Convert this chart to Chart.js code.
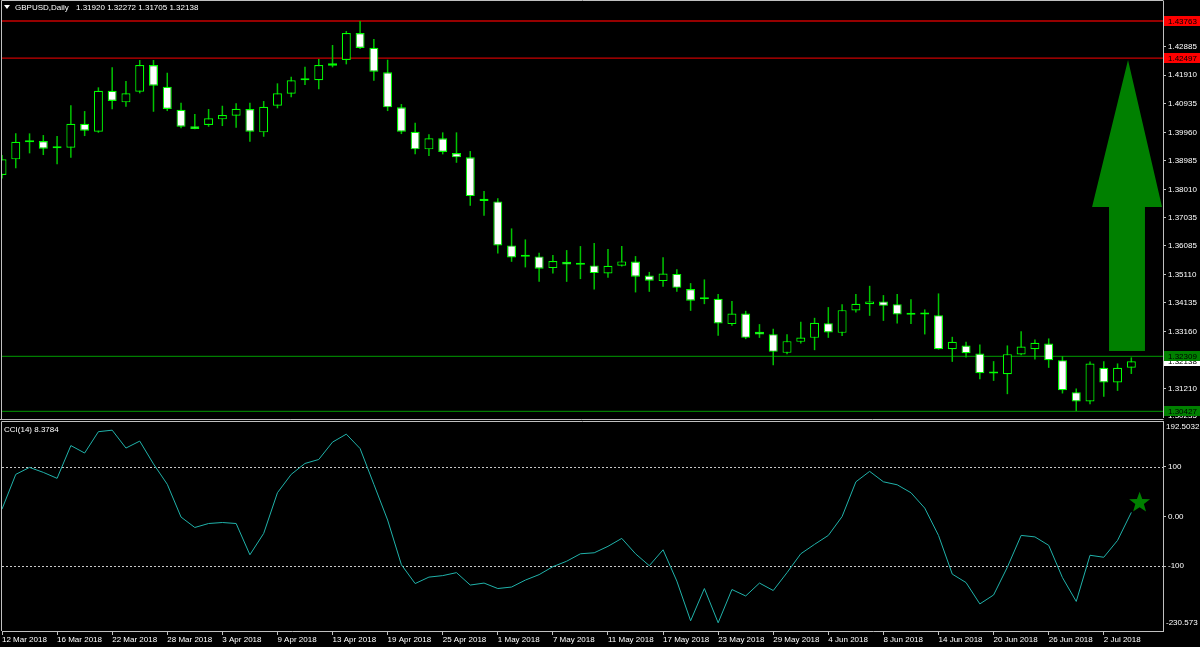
<!DOCTYPE html>
<html>
<head>
<meta charset="utf-8">
<title>GBPUSD Daily</title>
<script src="https://cdn.jsdelivr.net/npm/chart.js@4.4.1/dist/chart.umd.min.js"></script>
<style>
  html, body { margin: 0; padding: 0; background: #000; }
  #wrap { position: relative; width: 1200px; height: 647px; overflow: hidden; background: #000; }
  .pane { position: absolute; left: 0; width: 1200px; }
  #pricePane { top: 0; height: 420px; }
  #cciPane { top: 420px; height: 227px; }
</style>
</head>
<body>
<div id="wrap">
  <div class="pane" id="pricePane"><canvas id="priceChart"></canvas></div>
  <div class="pane" id="cciPane"><canvas id="cciChart"></canvas></div>
</div>
<script>
// bar data, 12 Mar 2018 .. 4 Jul 2018 (one entry per daily bar)
const dateLabels = ['12 Mar 2018', '16 Mar 2018', '22 Mar 2018', '28 Mar 2018', '3 Apr 2018', '9 Apr 2018',
  '13 Apr 2018', '19 Apr 2018', '25 Apr 2018', '1 May 2018', '7 May 2018', '11 May 2018', '17 May 2018',
  '23 May 2018', '29 May 2018', '4 Jun 2018', '8 Jun 2018', '14 Jun 2018', '20 Jun 2018', '26 Jun 2018', '2 Jul 2018'];

const openPx = [1.38500, 1.39037, 1.39620, 1.39662, 1.39415, 1.39433, 1.40253, 1.39980, 1.41381, 1.40985,
  1.41347, 1.42260, 1.41518, 1.40732, 1.40164, 1.40209, 1.40404, 1.40527, 1.40756, 1.39959,
  1.40869, 1.41279, 1.41737, 1.41737, 1.42236, 1.42430, 1.43353, 1.42851, 1.42010, 1.40814,
  1.39980, 1.39378, 1.39754, 1.39252, 1.39105, 1.37690, 1.37601, 1.36097, 1.35708, 1.35721,
  1.35322, 1.35537, 1.35434, 1.35414, 1.35140, 1.35400, 1.35544, 1.35065, 1.34877, 1.35123,
  1.34604, 1.34262, 1.34272, 1.33408, 1.33773, 1.33145, 1.33066, 1.32427, 1.32803, 1.32939,
  1.33442, 1.33110, 1.33876, 1.34091, 1.34184, 1.34091, 1.33726, 1.33739, 1.33715, 1.32553,
  1.32680, 1.32406, 1.31723, 1.31699, 1.32372, 1.32553, 1.32748, 1.32177, 1.31084, 1.30766,
  1.31914, 1.31415, 1.31920];
const highPx = [1.39184, 1.39925, 1.39925, 1.39867, 1.39833, 1.40882, 1.40687, 1.41497, 1.42181, 1.41713,
  1.42430, 1.42430, 1.41996, 1.40971, 1.40585, 1.40756, 1.40869, 1.40951, 1.40971, 1.41029,
  1.41634, 1.41860, 1.42201, 1.42465, 1.42943, 1.43421, 1.43763, 1.43148, 1.42441, 1.40927,
  1.40288, 1.39891, 1.39959, 1.39959, 1.39320, 1.37953, 1.37704, 1.36678, 1.36302, 1.35845,
  1.35766, 1.35937, 1.36074, 1.36176, 1.35971, 1.36074, 1.35732, 1.35192, 1.35691, 1.35281,
  1.34809, 1.34935, 1.34433, 1.34194, 1.33862, 1.33408, 1.33247, 1.33066, 1.33486, 1.33623,
  1.33989, 1.34091, 1.34433, 1.34717, 1.34399, 1.34433, 1.34262, 1.33910, 1.34457, 1.32974,
  1.32803, 1.32714, 1.32143, 1.32680, 1.33168, 1.32885, 1.32919, 1.32314, 1.31210, 1.32133,
  1.32143, 1.32065, 1.32272];
const lowPx = [1.38380, 1.38729, 1.39242, 1.39184, 1.38866, 1.39091, 1.39833, 1.39946, 1.40746, 1.40834,
  1.41292, 1.40663, 1.40687, 1.40096, 1.40062, 1.40151, 1.40175, 1.40117, 1.39638, 1.39809,
  1.40780, 1.41156, 1.41576, 1.41429, 1.42181, 1.42283, 1.42806, 1.41723, 1.40687, 1.39901,
  1.39208, 1.39149, 1.39208, 1.38920, 1.37451, 1.37109, 1.35824, 1.35537, 1.35346, 1.34853,
  1.35140, 1.34853, 1.34946, 1.34594, 1.34990, 1.35373, 1.34491, 1.34512, 1.34683, 1.34512,
  1.33862, 1.34091, 1.33008, 1.33350, 1.32895, 1.32939, 1.32006, 1.32382, 1.32748, 1.32519,
  1.32939, 1.32998, 1.33808, 1.33691, 1.33520, 1.33432, 1.33408, 1.33056, 1.32536, 1.32119,
  1.32270, 1.31528, 1.31470, 1.31015, 1.32348, 1.32201, 1.31914, 1.31039, 1.30440, 1.30674,
  1.30923, 1.31128, 1.31705];
const closePx = [1.39037, 1.39638, 1.39618, 1.39399, 1.39413, 1.40253, 1.40014, 1.41381, 1.41029, 1.41292,
  1.42260, 1.41552, 1.40756, 1.40151, 1.40072, 1.40438, 1.40551, 1.40766, 1.39980, 1.40834,
  1.41292, 1.41737, 1.41740, 1.42260, 1.42318, 1.43353, 1.42841, 1.42031, 1.40814, 1.39980,
  1.39378, 1.39754, 1.39286, 1.39105, 1.37782, 1.37611, 1.36097, 1.35687, 1.35706, 1.35298,
  1.35561, 1.35448, 1.35436, 1.35151, 1.35400, 1.35551, 1.35024, 1.34888, 1.35140, 1.34648,
  1.34204, 1.34264, 1.33432, 1.33773, 1.32939, 1.33056, 1.32461, 1.32827, 1.32953, 1.33452,
  1.33124, 1.33886, 1.34101, 1.34184, 1.34033, 1.33739, 1.33724, 1.33741, 1.32553, 1.32803,
  1.32417, 1.31733, 1.31721, 1.32382, 1.32646, 1.32769, 1.32177, 1.31152, 1.30766, 1.32065,
  1.31415, 1.31914, 1.32138];

const cciValues = [15, 85, 99, 89, 77, 143, 128, 171, 174, 138,
  152, 106, 65, -1, -22, -14, -12, -14, -77, -34,
  48, 85, 107, 115, 150, 166, 137, 65, -7, -97,
  -135, -122, -119, -113, -138, -134, -145, -142, -128, -117,
  -101, -90, -75, -73, -60, -44, -75, -99, -67, -130,
  -210, -145, -214, -147, -160, -134, -149, -113, -75, -56,
  -38, 0, 70, 91, 70, 64, 48, 17, -38, -116,
  -133, -176, -158, -102, -38, -41, -58, -123, -171, -78,
  -82, -48, 8.3784];

// axes
const priceTicks = [1.42885, 1.41910, 1.40935, 1.39960, 1.38985, 1.38010, 1.37035, 1.36085,
  1.35110, 1.34135, 1.33160, 1.31210];
const priceMin = 1.30235;
const priceMax = 1.44447;
const cciTicks = [100, 0, -100];
const cciLevels = [100, -100];
const cciMin = -230.573;
const cciMax = 192.5032;
const barsShown = 84.3;

// chart objects
const redLevels = [1.43763, 1.42497];
const greenLevels = [1.32309, 1.30427];
const arrowShape = { tipX: 81.76, tipY: 1.42431, headLeft: 79.15, headRight: 84.23, headY: 1.37409,
  shaftLeft: 80.38, shaftRight: 82.99, baseY: 1.32490 };
const starMark = { x: 82.6, y: 28 };

const colorLime = '#00ff00';
const colorWick = '#00c400';
const colorFrame = '#c0c0c0';
const colorRedLine = '#c80000';
const colorGreenLine = '#007c00';
const colorObject = '#008000';
const colorCci = '#20b2aa';
const labelFont = '8px "Liberation Sans"';

Chart.defaults.font.family = '"Liberation Sans", Arial, sans-serif';
Chart.defaults.font.size = 8;
Chart.defaults.color = '#ffffff';

const last = openPx.length - 1;

const drawTag = (ctx, y, text, bg, fg) => {
  ctx.fillStyle = bg;
  ctx.fillRect(1164, Math.round(y) - 5, 36, 10);
  ctx.fillStyle = fg;
  ctx.textAlign = 'left';
  ctx.textBaseline = 'middle';
  ctx.fillText(text, 1168, y + 0.5);
};

const priceDecor = {
  id: 'priceDecor',
  beforeDatasetsDraw(chart) {
    const { ctx, chartArea: a, scales: { y } } = chart;
    ctx.save();
    ctx.lineWidth = 1.3;
    const line = (v, c) => {
      const py = y.getPixelForValue(v);
      ctx.strokeStyle = c;
      ctx.beginPath();
      ctx.moveTo(a.left, py);
      ctx.lineTo(a.right, py);
      ctx.stroke();
    };
    redLevels.forEach((v) => line(v, colorRedLine));
    greenLevels.forEach((v) => line(v, colorGreenLine));
    ctx.restore();
  },
  afterDatasetsDraw(chart) {
    const { ctx, chartArea: a, scales: { x, y } } = chart;
    const s = arrowShape;
    ctx.save();
    ctx.beginPath();
    ctx.rect(a.left, a.top, a.right - a.left, a.bottom - a.top);
    ctx.clip();
    ctx.fillStyle = colorObject;
    ctx.beginPath();
    ctx.moveTo(x.getPixelForValue(s.tipX), y.getPixelForValue(s.tipY));
    ctx.lineTo(x.getPixelForValue(s.headRight), y.getPixelForValue(s.headY));
    ctx.lineTo(x.getPixelForValue(s.shaftRight), y.getPixelForValue(s.headY));
    ctx.lineTo(x.getPixelForValue(s.shaftRight), y.getPixelForValue(s.baseY));
    ctx.lineTo(x.getPixelForValue(s.shaftLeft), y.getPixelForValue(s.baseY));
    ctx.lineTo(x.getPixelForValue(s.shaftLeft), y.getPixelForValue(s.headY));
    ctx.lineTo(x.getPixelForValue(s.headLeft), y.getPixelForValue(s.headY));
    ctx.closePath();
    ctx.fill();
    ctx.restore();
  },
  afterDraw(chart) {
    const { ctx, chartArea: a, scales: { y } } = chart;
    ctx.save();
    // frame
    ctx.strokeStyle = colorFrame;
    ctx.lineWidth = 1;
    ctx.beginPath();
    ctx.moveTo(1.5, 419.5);
    ctx.lineTo(1.5, 0.5);
    ctx.lineTo(a.right + 0.5, 0.5);
    ctx.moveTo(0, 419.5);
    ctx.lineTo(a.right + 0.5, 419.5);
    ctx.stroke();

    // title
    ctx.fillStyle = '#ffffff';
    ctx.beginPath();
    ctx.moveTo(4, 5);
    ctx.lineTo(10, 5);
    ctx.lineTo(7, 9);
    ctx.closePath();
    ctx.fill();
    ctx.font = labelFont;
    ctx.textBaseline = 'middle';
    ctx.textAlign = 'left';
    ctx.fillText('GBPUSD,Daily', 15, 7.5);
    const ohlc = [openPx[last], highPx[last], lowPx[last], closePx[last]].map((v) => v.toFixed(5)).join(' ');
    ctx.fillText(ohlc, 76, 7.5);

    // bottom price of the window
    ctx.fillText(priceMin.toFixed(5), 1168, y.getPixelForValue(priceMin) - 1);

    // price tags on the axis
    drawTag(ctx, y.getPixelForValue(closePx[last]), closePx[last].toFixed(5), '#ffffff', '#000000');
    redLevels.forEach((v) => drawTag(ctx, y.getPixelForValue(v), v.toFixed(5), '#ff0000', '#000000'));
    greenLevels.forEach((v) => drawTag(ctx, y.getPixelForValue(v), v.toFixed(5), colorObject, '#000000'));
    ctx.restore();
  },
};

const cciDecor = {
  id: 'cciDecor',
  beforeDatasetsDraw(chart) {
    const { ctx, chartArea: a, scales: { y } } = chart;
    ctx.save();
    ctx.strokeStyle = '#c8c8c8';
    ctx.lineWidth = 1;
    ctx.setLineDash([2, 2]);
    cciLevels.forEach((v) => {
      const py = Math.round(y.getPixelForValue(v)) + 0.5;
      ctx.beginPath();
      ctx.moveTo(a.left, py);
      ctx.lineTo(a.right, py);
      ctx.stroke();
    });
    ctx.restore();
  },
  afterDraw(chart) {
    const { ctx, chartArea: a, scales: { x, y } } = chart;
    ctx.save();
    ctx.strokeStyle = colorFrame;
    ctx.lineWidth = 1;
    ctx.beginPath();
    ctx.moveTo(1.5, a.bottom);
    ctx.lineTo(1.5, 1.5);
    ctx.lineTo(a.right + 0.5, 1.5);
    ctx.stroke();

    ctx.font = labelFont;
    ctx.fillStyle = '#ffffff';
    ctx.textAlign = 'left';
    ctx.textBaseline = 'middle';
    ctx.fillText('CCI(14) ' + cciValues[last].toFixed(4), 4, 9.5);
    ctx.fillText(cciMax.toFixed(4), 1166, y.getPixelForValue(cciMax) + 6);
    ctx.fillText(cciMin.toFixed(3), 1166, y.getPixelForValue(cciMin) - 8);

    // star marker
    const cx = x.getPixelForValue(starMark.x);
    const cy = y.getPixelForValue(starMark.y);
    ctx.fillStyle = colorObject;
    ctx.beginPath();
    for (let k = 0; k < 10; k++) {
      const r = k % 2 === 0 ? 11 : 4.5;
      const ang = -Math.PI / 2 + (k * Math.PI) / 5;
      const px = cx + r * Math.cos(ang);
      const py = cy + r * Math.sin(ang);
      if (k === 0) ctx.moveTo(px, py); else ctx.lineTo(px, py);
    }
    ctx.closePath();
    ctx.fill();
    ctx.restore();
  },
};

const wickData = highPx.map((h, i) => ({ x: i, y: [lowPx[i], h] }));
const bodyData = openPx.map((o, i) => ({ x: i, y: [o, closePx[i]] }));

new Chart(document.getElementById('priceChart'), {
  type: 'bar',
  data: {
    datasets: [
      {
        data: bodyData,
        order: 0,
        grouped: false,
        maxBarThickness: 9,
        minBarLength: 2,
        inflateAmount: 0,
        borderWidth: 1.2,
        borderSkipped: false,
        borderColor: colorLime,
        backgroundColor: (c) => (closePx[c.dataIndex] < openPx[c.dataIndex] ? '#ffffff' : '#000000'),
      },
      {
        data: wickData,
        order: 1,
        grouped: false,
        maxBarThickness: 1.5,
        inflateAmount: 0,
        borderWidth: 0,
        backgroundColor: colorWick,
      },
    ],
  },
  options: {
    responsive: true,
    maintainAspectRatio: false,
    animation: false,
    events: [],
    layout: { padding: { left: 2, right: 0, top: 1, bottom: 3 } },
    scales: {
      x: {
        type: 'linear',
        display: false,
        offset: false,
        min: 0,
        max: barsShown,
      },
      y: {
        position: 'right',
        min: priceMin,
        max: priceMax,
        afterBuildTicks: (scale) => {
          scale.ticks = priceTicks.map((v) => ({ value: v }));
        },
        afterFit: (scale) => {
          scale.width = 37;
          scale.paddingTop = 0;
          scale.paddingBottom = 0;
        },
        grid: { drawOnChartArea: false, drawTicks: true, tickLength: 3, tickColor: colorFrame },
        border: { display: true, color: colorFrame, width: 1 },
        ticks: {
          padding: 2,
          color: '#ffffff',
          callback: (v) => Number(v).toFixed(5),
        },
      },
    },
    plugins: {
      legend: { display: false },
      tooltip: { enabled: false },
    },
  },
  plugins: [priceDecor],
});

new Chart(document.getElementById('cciChart'), {
  type: 'line',
  data: {
    datasets: [
      {
        data: cciValues.map((v, i) => ({ x: i, y: v })),
        borderColor: colorCci,
        borderWidth: 1,
        pointRadius: 0,
        tension: 0,
        fill: false,
      },
    ],
  },
  options: {
    responsive: true,
    maintainAspectRatio: false,
    animation: false,
    events: [],
    layout: { padding: { left: 2, right: 0, top: 1, bottom: 0 } },
    scales: {
      x: {
        type: 'linear',
        offset: false,
        min: 0,
        max: barsShown,
        afterBuildTicks: (scale) => {
          scale.ticks = dateLabels.map((_, k) => ({ value: k * 4 }));
        },
        afterFit: (scale) => {
          scale.height = 16;
          scale.paddingLeft = 0;
          scale.paddingRight = 0;
        },
        grid: { drawOnChartArea: false, drawTicks: true, tickLength: 4, tickColor: colorFrame },
        border: { display: true, color: colorFrame, width: 1 },
        ticks: {
          align: 'start',
          padding: 0,
          maxRotation: 0,
          autoSkip: false,
          color: '#ffffff',
          callback: (v) => dateLabels[Math.round(v / 4)],
        },
      },
      y: {
        position: 'right',
        min: cciMin,
        max: cciMax,
        afterBuildTicks: (scale) => {
          scale.ticks = cciTicks.map((v) => ({ value: v }));
        },
        afterFit: (scale) => {
          scale.width = 37;
          scale.paddingTop = 0;
          scale.paddingBottom = 0;
        },
        grid: { drawOnChartArea: false, drawTicks: true, tickLength: 3, tickColor: colorFrame },
        border: { display: true, color: colorFrame, width: 1 },
        ticks: {
          padding: 2,
          color: '#ffffff',
          callback: (v) => (v === 0 ? '0.00' : String(v)),
        },
      },
    },
    plugins: {
      legend: { display: false },
      tooltip: { enabled: false },
    },
  },
  plugins: [cciDecor],
});
</script>
</body>
</html>
